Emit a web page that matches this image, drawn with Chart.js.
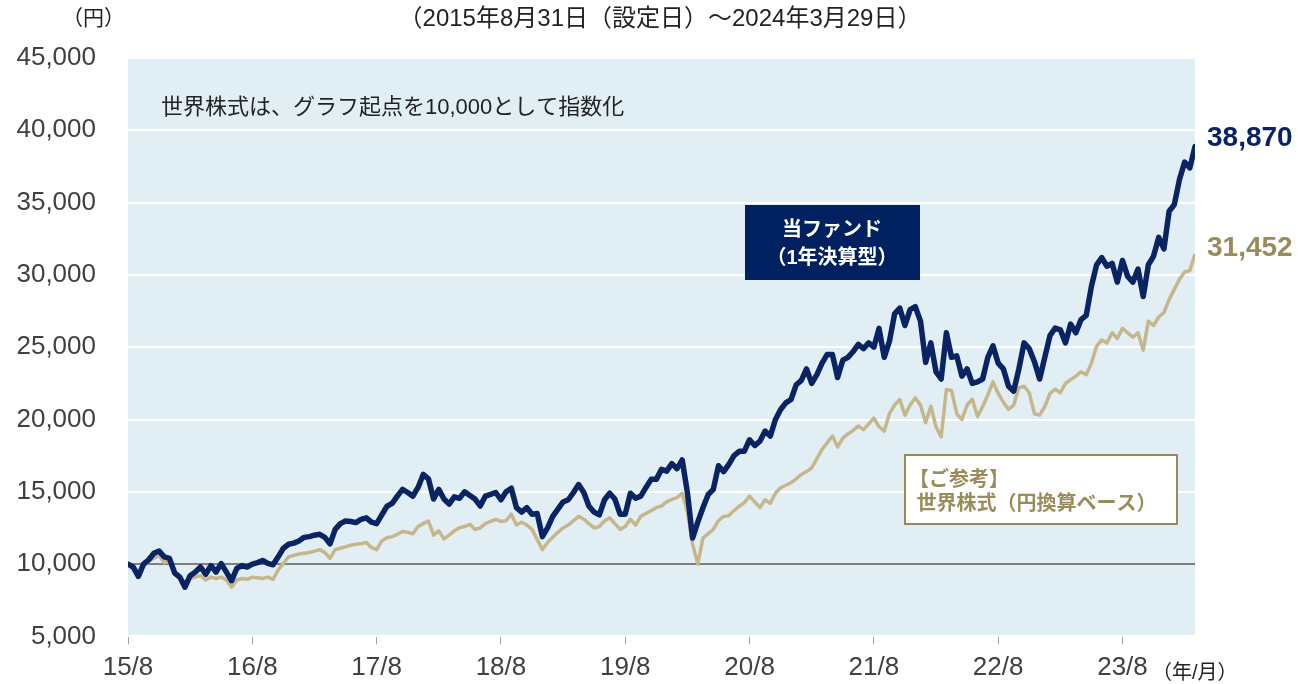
<!DOCTYPE html>
<html lang="ja">
<head>
<meta charset="utf-8">
<script src="https://cdn.jsdelivr.net/npm/chart.js@4.4.1/dist/chart.umd.min.js"></script>
<style>
  html, body { margin: 0; padding: 0; background: #fff; }
  #wrap { width: 1298px; height: 684px; position: relative; }
</style>
</head>
<body>
<div id="wrap"><canvas id="myChart" width="1298" height="684"></canvas></div>
<script>
// 半月ごとの基準価額（2015/8/31 → 2024/3/29）
const fundValues = [
  10000, 9800, 9150, 10000, 10300, 10750, 10900, 10500, 10400, 9400,
  9100, 8400, 9200, 9450, 9800, 9300, 9900, 9450, 10030, 9440,
  8850, 9700, 9900, 9800, 10000, 10100, 10250, 10050, 9950, 10500,
  11100, 11370, 11450, 11600, 11850, 11900, 12000, 12060, 11850, 11400,
  12400, 12800, 12980, 12950, 12870, 13100, 13200, 12900, 12800, 13400,
  14000, 14200, 14700, 15170, 14950, 14700, 15300, 16200, 15900, 14500,
  15170, 14500, 14150, 14650, 14550, 15000, 14750, 14500, 14020, 14700,
  14820, 14950, 14450, 15000, 15250, 13900, 13600, 13900, 13450, 13500,
  11900, 12500, 13300, 13800, 14300, 14450, 14950, 15500, 14950, 14000,
  13600, 13400, 14450, 14900, 14500, 13450, 13450, 14900, 14550, 14700,
  15300, 15860, 15860, 16550, 16430, 16950, 16600, 17200, 14940, 11800,
  12900, 13900, 14800, 15170, 16800, 16400, 16900, 17500, 17800, 17810,
  18600, 18200, 18500, 19200, 18850, 20000, 20690, 21150, 21380, 22400,
  22700, 23500, 22500, 23100, 23900, 24500, 24490, 22900, 24100, 24300,
  24700, 25200, 24900, 25300, 25000, 26300, 24300, 25400, 27300, 27700,
  26500, 27600, 27800, 26800, 23950, 25300, 23300, 22800, 26000, 24300,
  24400, 23000, 23500, 22500, 22600, 22800, 24300, 25100, 23900, 23500,
  22300, 21960, 23500, 25300, 24900, 24000, 22800, 24300, 25800, 26330,
  26200, 25300, 26600, 26000, 26910, 27200, 29200, 30700, 31200, 30600,
  30800, 29500, 31000, 29900, 29500, 30400, 28500, 30700, 31300, 32600,
  31800, 34400, 34850, 36600, 37800, 37400, 38870
];

// 世界株式（円換算ベース、起点10,000で指数化）
const worldValues = [
  10000, 9900, 9300, 9900, 10200, 10400, 10600, 10100, 10200, 9300,
  9000, 8750, 9000, 9100, 9200, 8900, 9100, 9000, 9100, 8900,
  8400, 8900, 9000, 8950, 9100, 9050, 9000, 9100, 8950, 9600,
  10050, 10500, 10600, 10700, 10750, 10800, 10900, 11000, 10800, 10400,
  11000, 11100, 11200, 11300, 11370, 11400, 11500, 11150, 11000, 11600,
  11830, 11900, 12060, 12250, 12200, 12100, 12600, 12800, 12980, 12000,
  12300, 11750, 12000, 12300, 12520, 12600, 12750, 12400, 12500, 12800,
  12950, 13100, 12950, 13000, 13450, 12700, 12900, 12700, 12400, 11700,
  11000, 11500, 11850, 12200, 12500, 12700, 13000, 13300, 13100, 12800,
  12500, 12600, 12980, 13200, 12800, 12400, 12600, 13100, 12700, 13300,
  13500, 13700, 13900, 14020, 14300, 14470, 14600, 14900, 13600, 11400,
  10000, 11800, 12100, 12400, 13000, 13300, 13350, 13700, 14000, 14250,
  14700, 14300, 13900, 14450, 14200, 14900, 15280, 15450, 15630, 15900,
  16200, 16400, 16660, 17300, 17930, 18400, 18850, 18100, 18700, 19000,
  19250, 19540, 19300, 19700, 20100, 19500, 19200, 20400, 21000, 21380,
  20300, 21000, 21500, 21000, 19770, 20920, 19500, 18800, 22070, 22000,
  20400, 20000, 21000, 21400, 20200, 20900, 21700, 22600, 21800, 21200,
  20700, 21000, 22200, 22300, 21850, 20400, 20300, 20900, 21800, 22100,
  21850, 22500, 22760, 23000, 23300, 23100, 23900, 25060, 25500, 25300,
  26000, 25600, 26300, 26000, 25700, 26000, 24800, 26800, 26500, 27100,
  27400, 28290, 29000, 29700, 30200, 30300, 31452
];

const xTickLabels = ["15/8", "16/8", "17/8", "18/8", "19/8", "20/8", "21/8", "22/8", "23/8"];
const yTicks = [5000, 10000, 15000, 20000, 25000, 30000, 35000, 40000, 45000];

const NAVY = "#0A2463";
const GOLD_LINE = "#C6B68C";
const GOLD_TEXT = "#9A8C5A";
const JP_FONT = "'Liberation Sans', 'Noto Sans CJK JP', sans-serif";
const NUM_FONT = "'Liberation Sans', Arial, sans-serif";

// 背景と注記
const decorPlugin = {
  id: "decor",
  beforeDraw(chart) {
    const { ctx, chartArea: a } = chart;
    ctx.save();
    ctx.fillStyle = "#E1EFF5";
    ctx.fillRect(a.left, a.top, a.right - a.left, a.bottom - a.top);
    ctx.restore();
  },
  afterDraw(chart) {
    const { ctx } = chart;
    const y = chart.scales.y;
    ctx.save();
    ctx.textBaseline = "middle";

    // 上部テキスト
    ctx.fillStyle = "#222";
    ctx.font = "21px " + JP_FONT;
    ctx.textAlign = "left";
    ctx.fillText("（円）", 62, 19);
    ctx.textAlign = "center";
    ctx.font = "24px " + JP_FONT;
    ctx.fillText("（2015年8月31日（設定日）～2024年3月29日）", 660, 19);

    ctx.textAlign = "left";
    ctx.font = "22px " + JP_FONT;
    ctx.fillText("世界株式は、グラフ起点を10,000として指数化", 161, 108);

    ctx.font = "20px " + JP_FONT;
    ctx.fillText("（年/月）", 1152, 673);

    // 当ファンド ボックス
    ctx.fillStyle = "#002060";
    ctx.fillRect(745, 205, 175, 75);
    ctx.fillStyle = "#fff";
    ctx.textAlign = "center";
    ctx.font = "bold 20px " + JP_FONT;
    ctx.fillText("当ファンド", 832, 230);
    ctx.fillText("（1年決算型）", 832, 258);

    // ご参考 ボックス
    ctx.fillStyle = "#fff";
    ctx.fillRect(905, 455, 272, 69);
    ctx.strokeStyle = GOLD_TEXT;
    ctx.lineWidth = 2;
    ctx.strokeRect(905, 455, 272, 69);
    ctx.fillStyle = GOLD_TEXT;
    ctx.textAlign = "left";
    ctx.font = "bold 20px " + JP_FONT;
    ctx.fillText("【ご参考】", 909, 480);
    ctx.fillText(" 世界株式（円換算ベース）", 911, 504);

    // 最終値ラベル
    const fundLast = fundValues[fundValues.length - 1];
    const worldLast = worldValues[worldValues.length - 1];
    ctx.font = "bold 28px " + NUM_FONT;
    ctx.fillStyle = NAVY;
    ctx.fillText(fundLast.toLocaleString("en-US"), 1207, y.getPixelForValue(fundLast) - 8);
    ctx.fillStyle = GOLD_TEXT;
    ctx.fillText(worldLast.toLocaleString("en-US"), 1207, y.getPixelForValue(worldLast) - 6);
    ctx.restore();
  },
};

const ctx = document.querySelector("#myChart").getContext("2d");
new Chart(ctx, {
  type: "line",
  data: {
    datasets: [
      {
        label: "当ファンド（1年決算型）",
        data: fundValues.map((v, i) => ({ x: i, y: v })),
        borderColor: NAVY,
        borderWidth: 5.5,
        pointRadius: 0,
        tension: 0,
        borderJoinStyle: "round",
        borderCapStyle: "round",
      },
      {
        label: "世界株式（円換算ベース）",
        data: worldValues.map((v, i) => ({ x: i, y: v })),
        borderColor: GOLD_LINE,
        borderWidth: 3.5,
        pointRadius: 0,
        tension: 0,
        borderJoinStyle: "round",
      },
    ],
  },
  options: {
    responsive: false,
    animation: false,
    layout: { padding: { top: 58, right: 103, left: 0, bottom: 0 } },
    plugins: {
      legend: { display: false },
      title: { display: false },
      tooltip: { enabled: false },
    },
    scales: {
      x: {
        type: "linear",
        min: 0,
        max: fundValues.length - 1,
        border: { display: false },
        grid: {
          drawOnChartArea: false,
          drawTicks: true,
          tickLength: 8,
          color: "#A6A6A6",
        },
        ticks: {
          stepSize: 24,
          includeBounds: false,
          autoSkip: false,
          maxRotation: 0,
          padding: 8,
          color: "#404040",
          font: { family: NUM_FONT, size: 26 },
          callback: (value) => xTickLabels[value / 24] ?? "",
        },
        afterFit: (scale) => { scale.height = 47; },
      },
      y: {
        min: 5000,
        max: 45000,
        border: { display: false },
        afterBuildTicks: (scale) => { scale.ticks = yTicks.map((v) => ({ value: v })); },
        grid: {
          drawTicks: false,
          lineWidth: 2,
          color: (c) => (c.tick && c.tick.value === 10000 ? "#7F7F7F" : "#FFFFFF"),
        },
        ticks: {
          padding: 32,
          color: "#404040",
          font: { family: NUM_FONT, size: 26 },
          callback: (value) => value.toLocaleString("en-US"),
        },
        afterFit: (scale) => { scale.width = 128; },
      },
    },
  },
  plugins: [decorPlugin],
});
</script>
</body>
</html>
